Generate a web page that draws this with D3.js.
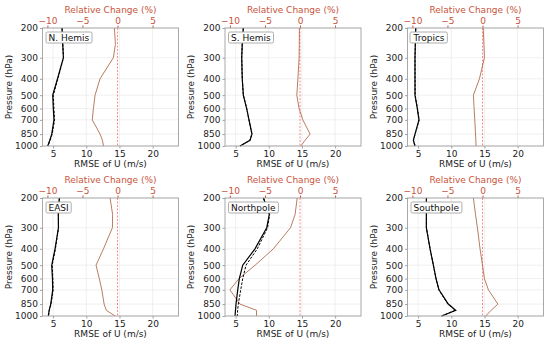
<!DOCTYPE html>
<html>
<head>
<meta charset="utf-8">
<script src="https://cdn.jsdelivr.net/npm/d3@7"></script>
<style>
  body { margin: 0; background: #fff; }
  svg { font-family: "DejaVu Sans", sans-serif; }
</style>
</head>
<body>
<div id="chart"></div>
<script>
// pressure levels (hPa)
var levels = [200, 250, 300, 400, 500, 600, 700, 850, 925, 1000]
  , yTicks = [200, 300, 400, 500, 600, 700, 850, 1000]
  , rmseTicks = [5, 10, 15, 20]
  , relTicks = [-10, -5, 0, 5];

var names = ['N. Hemis', 'S. Hemis', 'Tropics', 'EASI', 'Northpole', 'Southpole'];

// RMSE of U, experiment (solid)
var expNH = [6.34, 6.45, 6.55, 5.65, 4.94, 5.03, 5.13, 4.79, 4.5, 4.18]
  , expSH = [6.16, 6.0, 5.92, 6.0, 6.16, 6.67, 7.02, 7.47, 7.17, 5.66]
  , expTR = [4.64, 4.58, 4.53, 4.53, 4.53, 4.88, 5.13, 4.53, 4.28, 4.53]
  , expEA = [5.93, 5.78, 5.8, 5.29, 4.79, 4.9, 4.94, 4.64, 4.4, 4.28]
  , expNP = [9.18, 10.08, 9.69, 7.92, 6.07, 5.56, 5.32, 5.06, 4.98, 4.91]
  , expSP = [6.24, 6.24, 6.24, 6.8, 7.3, 7.7, 8.15, 9.55, 10.67, 8.56];

// RMSE of U, control (dashed)
var ctlNH = [6.36, 6.46, 6.57, 5.72, 5.03, 5.12, 5.22, 4.86, 4.55, 4.22]
  , ctlSH = [6.16, 6.0, 5.92, 6.01, 6.17, 6.67, 7.01, 7.44, 7.15, 5.66]
  , ctlTR = [4.64, 4.58, 4.53, 4.54, 4.55, 4.9, 5.15, 4.55, 4.3, 4.55]
  , ctlEA = [5.96, 5.8, 5.82, 5.35, 4.86, 4.96, 5.0, 4.69, 4.44, 4.29]
  , ctlNP = [9.22, 10.12, 9.82, 8.27, 6.57, 6.07, 5.77, 5.41, 5.3, 5.26]
  , ctlSP = [6.26, 6.26, 6.25, 6.81, 7.3, 7.69, 8.12, 9.47, 10.6, 8.54];

// relative change (%)
var relNH = [-0.44, -0.3, -0.59, -2.5, -3.2, -3.44, -3.6, -2.49, -2.15, -2.0]
  , relSH = [-0.09, -0.1, -0.13, -0.3, -0.46, -0.13, 0.4, 1.44, 0.73, 0.11]
  , relTR = [0.1, 0.2, 0.27, -0.44, -1.3, -1.2, -1.1, -1.0, -0.95, -0.92]
  , relEA = [-1.06, -0.7, -0.73, -2.0, -3.06, -2.6, -2.24, -1.91, -1.6, -0.34]
  , relNP = [-0.4, -0.7, -1.35, -3.8, -6.4, -8.7, -10.0, -8.57, -6.2, -6.2]
  , relSP = [-1.3, -1.0, -0.73, -0.35, 0.0, 0.27, 0.84, 2.19, 1.23, 0.47];

var exps = [expNH, expSH, expTR, expEA, expNP, expSP]
  , ctls = [ctlNH, ctlSH, ctlTR, ctlEA, ctlNP, ctlSP]
  , rels = [relNH, relSH, relTR, relEA, relNP, relSP];

var W = 550, H = 346
  , lefts = [42.5, 225, 407.5]
  , tops = [28, 198]
  , pw = 136
  , ph = 118
  , fs = 9
  , spine = '#a0a0a0'
  , relColor = '#c8543c';

var svg = d3.select('#chart').append('svg')
  .attr('width', W)
  .attr('height', H);

var x = d3.scaleLinear().domain([3.4, 23.9]).range([0, pw])
  , xr = d3.scaleLinear().domain([-10.7, 8.7]).range([0, pw])
  , y = d3.scaleLog().domain([200, 1000]).range([0, ph]);

var drawPanel = function (i) {
  var g = svg.append('g')
    .attr('transform', 'translate(' + lefts[i % 3] + ',' + tops[Math.floor(i / 3)] + ')');

  // grid
  g.selectAll('line.gx').data(rmseTicks).enter().append('line')
    .attr('x1', function (d) { return x(d); })
    .attr('x2', function (d) { return x(d); })
    .attr('y1', 0).attr('y2', ph)
    .attr('stroke', '#e6e6e6').attr('stroke-width', 0.6);
  g.selectAll('line.gy').data(yTicks).enter().append('line')
    .attr('x1', 0).attr('x2', pw)
    .attr('y1', function (d) { return y(d); })
    .attr('y2', function (d) { return y(d); })
    .attr('stroke', '#e6e6e6').attr('stroke-width', 0.6);

  // axes
  var bottom = g.append('g').attr('transform', 'translate(0,' + ph + ')')
    .call(d3.axisBottom(x).tickValues(rmseTicks).tickSize(2.5).tickPadding(2).tickFormat(d3.format('d')));
  var top = g.append('g')
    .call(d3.axisTop(xr).tickValues(relTicks).tickSize(2.5).tickPadding(2)
      .tickFormat(function (d) { return d < 0 ? '\u2212' + Math.abs(d) : d; }));
  var left = g.append('g')
    .call(d3.axisLeft(y).tickValues(yTicks).tickSize(2.5).tickPadding(2).tickFormat(d3.format('d')));

  [bottom, top, left].forEach(function (a) {
    a.select('.domain').remove();
    a.selectAll('line').attr('stroke', spine);
    a.selectAll('text').attr('font-size', fs).attr('font-family', 'DejaVu Sans').attr('fill', '#222');
  });
  top.selectAll('text').attr('fill', relColor);
  top.selectAll('line').attr('stroke', relColor);

  // zero line of relative change
  g.append('line')
    .attr('x1', xr(0)).attr('x2', xr(0))
    .attr('y1', 0).attr('y2', ph)
    .attr('stroke', '#ff6060').attr('stroke-opacity', 0.8)
    .attr('stroke-width', 0.9).attr('stroke-dasharray', '2,1.5');

  var lineX = d3.line()
    .x(function (d) { return x(d[0]); })
    .y(function (d) { return y(d[1]); });
  var lineR = d3.line()
    .x(function (d) { return xr(d[0]); })
    .y(function (d) { return y(d[1]); });

  g.append('path')
    .datum(d3.zip(rels[i], levels))
    .attr('d', lineR)
    .attr('fill', 'none')
    .attr('stroke', 'sienna').attr('stroke-opacity', 0.75).attr('stroke-width', 1);

  g.append('path')
    .datum(d3.zip(ctls[i], levels))
    .attr('d', lineX)
    .attr('fill', 'none')
    .attr('stroke', '#000').attr('stroke-width', 1).attr('stroke-dasharray', '2.5,1.5');

  g.append('path')
    .datum(d3.zip(exps[i], levels))
    .attr('d', lineX)
    .attr('fill', 'none')
    .attr('stroke', '#000').attr('stroke-width', 1.2);

  // frame
  g.append('rect')
    .attr('width', pw).attr('height', ph)
    .attr('fill', 'none').attr('stroke', spine).attr('stroke-width', 0.9);

  // labels
  g.append('text')
    .attr('x', pw / 2).attr('y', ph + 21)
    .attr('text-anchor', 'middle').attr('font-size', fs).attr('fill', '#222')
    .text('RMSE of U (m/s)');
  g.append('text')
    .attr('x', pw / 2).attr('y', -15)
    .attr('text-anchor', 'middle').attr('font-size', fs).attr('fill', relColor)
    .text('Relative Change (%)');
  g.append('text')
    .attr('transform', 'translate(' + (-31) + ',' + (ph / 2) + ') rotate(-90)')
    .attr('text-anchor', 'middle').attr('font-size', fs).attr('fill', '#222')
    .text('Pressure (hPa)');

  // name box
  var box = g.append('rect');
  var t = g.append('text')
    .attr('x', 6).attr('y', 12.5)
    .attr('font-size', fs).attr('fill', '#111')
    .text(names[i]);
  var bb = t.node().getBBox();
  box.attr('x', bb.x - 2.5).attr('y', bb.y - 0.5)
    .attr('width', bb.width + 5).attr('height', bb.height + 1)
    .attr('rx', 1.5)
    .attr('fill', '#fff').attr('stroke', '#999').attr('stroke-width', 0.8);
};

for (var i = 0; i < 6; i++) {
  drawPanel(i);
}
</script>
</body>
</html>
